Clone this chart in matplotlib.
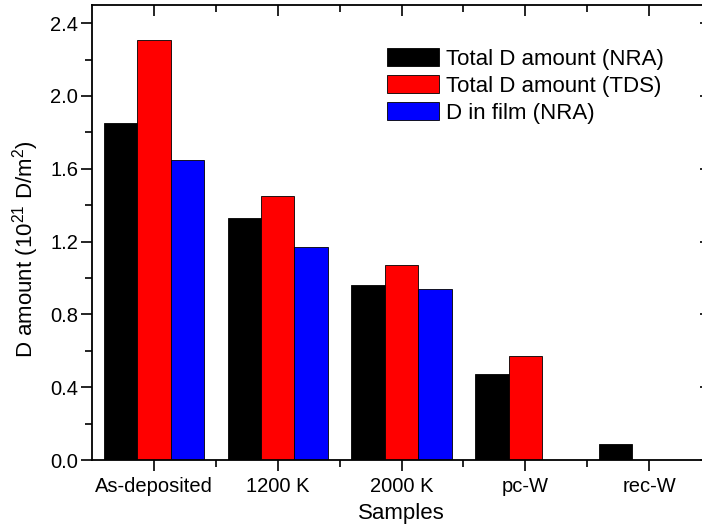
import numpy as np
import matplotlib
matplotlib.use("Agg")
import matplotlib.pyplot as plt
from matplotlib.ticker import MultipleLocator, FixedLocator

plt.rcParams['font.family'] = ['Liberation Sans', 'DejaVu Sans']
plt.rcParams['mathtext.fontset'] = 'custom'
plt.rcParams['mathtext.rm'] = 'Liberation Sans'
plt.rcParams['mathtext.it'] = 'Liberation Sans:italic'

samples = ["As-deposited", "1200 K", "2000 K", "pc-W", "rec-W"]
series_names = ["Total D amount (NRA)", "Total D amount (TDS)", "D in film (NRA)"]
total_nra = [1.85, 1.33, 0.96, 0.47, 0.09]
total_tds = [2.31, 1.45, 1.07, 0.57, np.nan]
film_nra = [1.65, 1.17, 0.94, np.nan, np.nan]
colors = ["#000000", "#ff0000", "#0000ff"]

fig = plt.figure(figsize=(7.02, 5.26), dpi=100)
# axes spans past the right edge like the original
ax = fig.add_axes([92 / 702, 66 / 526, 619 / 702, 455 / 526])

x = np.arange(len(samples))
w = 0.27
for i, (vals, name, c) in enumerate(zip([total_nra, total_tds, film_nra], series_names, colors)):
    ax.bar(x + (i - 1) * w, vals, w, color=c, edgecolor="black", linewidth=0.6, label=name)

ax.set_xlim(-0.5, 4.5)
ax.set_ylim(0, 2.5)
ax.set_xticks(x)
ax.set_xticklabels(samples)
ax.xaxis.set_minor_locator(FixedLocator(x[:-1] + 0.5))
ax.yaxis.set_major_locator(MultipleLocator(0.4))
ax.yaxis.set_minor_locator(MultipleLocator(0.2))
ax.yaxis.set_major_formatter(matplotlib.ticker.FormatStrFormatter('%.1f'))

ax.tick_params(axis='both', which='major', length=8, width=1.2, labelsize=14.5, pad=2)
ax.tick_params(axis='x', which='major', pad=4)
ax.tick_params(axis='both', which='minor', length=5, width=1.2)
ax.tick_params(which='both', top=True, right=True)
# top/right ticks point inward, bottom/left outward
for t in ax.xaxis.get_major_ticks() + ax.xaxis.get_minor_ticks():
    t.tick2line.set_marker(matplotlib.lines.TICKDOWN)
for t in ax.yaxis.get_major_ticks() + ax.yaxis.get_minor_ticks():
    t.tick2line.set_marker(matplotlib.lines.TICKLEFT)
for s in ax.spines.values():
    s.set_linewidth(1.3)

ax.set_xlabel("Samples", fontsize=16, labelpad=5)
ax.set_ylabel(r"D amount (10$^{21}$ D/m$^{2}$)", fontsize=16)
ax.yaxis.set_label_coords(-0.082, 0.463)

ax.legend(loc="upper left", bbox_to_anchor=(0.463, 0.925), frameon=False, fontsize=16,
          handlelength=2.3, handleheight=0.85, handletextpad=0.35, labelspacing=0.25,
          borderaxespad=0)

fig.savefig("out.png", dpi=100)
